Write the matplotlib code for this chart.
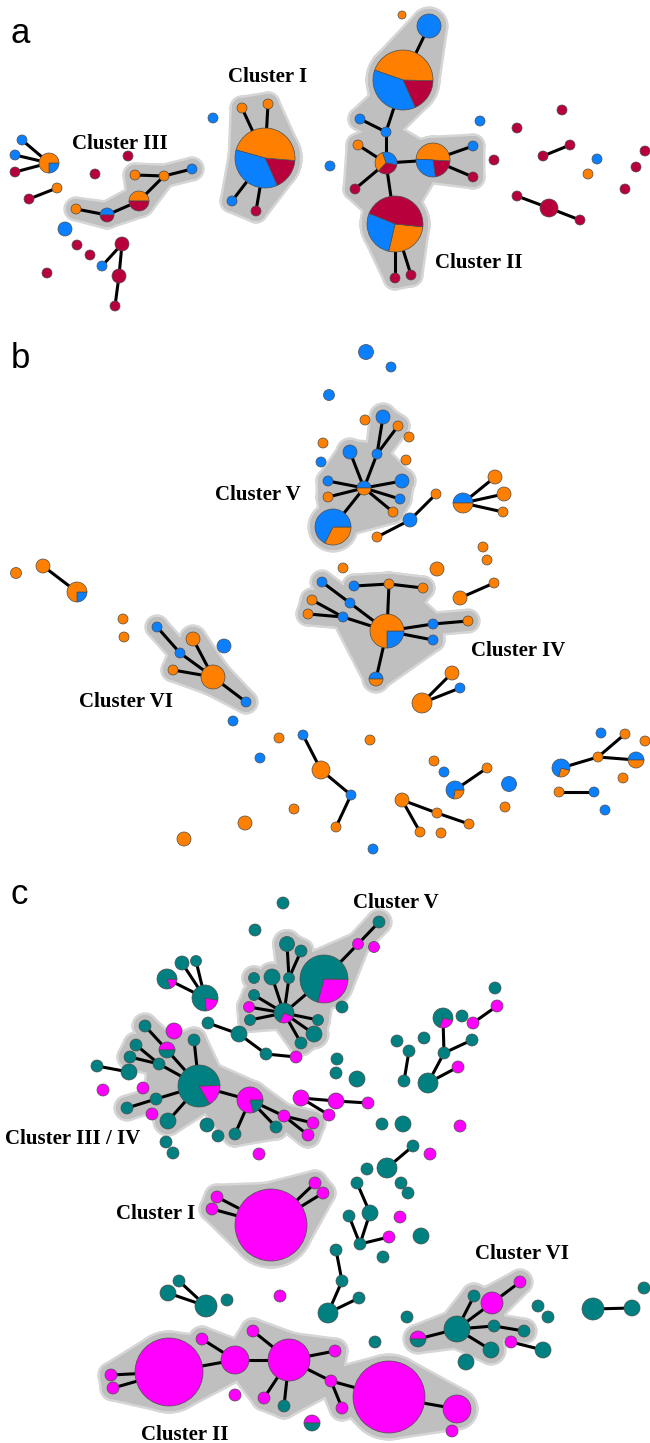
import matplotlib
matplotlib.use('Agg')
import numpy as np
import matplotlib.pyplot as plt
from matplotlib.patches import Circle, Wedge, Polygon

W, H = 650, 1443

# colour keys used in the node compositions
COLORS = {'b': '#0a80ff', 'o': '#ff8000', 'r': '#b8003c',
          't': '#008080', 'm': '#ff00ff'}
HULL_FILL = '#bfbfbf'
HULL_EDGE = '#d6d6d6'


def half(top, bottom):
    return (0, [(top, .5), (bottom, .5)])


# ---- panel a : node layout (x, y, size, composition) ----
nodes_a = [
    (22, 140, 5, 'b'), (15, 155, 5, 'b'), (15, 172, 5, 'r'),
    (49, 163, 10, (-90, [('b', .25), ('o', .75)])),
    (57, 188, 5, 'o'), (29, 199, 5, 'r'), (95, 174, 5, 'r'), (128, 156, 5, 'r'),
    (213, 118, 5, 'b'),
    # cluster III
    (76, 209, 5, 'o'), (107, 215, 7, half('b', 'r')), (139, 201, 10, half('o', 'r')),
    (135, 175, 5, 'o'), (164, 176, 5, 'o'), (192, 169, 5, 'b'),
    (65, 229, 7, 'b'), (77, 245, 5, 'r'), (90, 255, 5, 'r'), (122, 244, 7, 'r'),
    (102, 266, 5, 'b'), (119, 276, 7, 'r'), (115, 306, 5, 'r'), (47, 273, 5, 'r'),
    # cluster I
    (265, 158, 30, (-66, [('r', .17), ('o', .47), ('b', .36)])),
    (242, 108, 5, 'o'), (268, 104, 5, 'o'), (232, 201, 5, 'b'), (256, 211, 5, 'r'),
    # cluster II
    (402, 15, 4, 'o'), (429, 26, 12, 'b'),
    (403, 80, 30, (-66, [('r', .18), ('o', .45), ('b', .37)])),
    (360, 119, 5, 'b'), (386, 132, 5, 'b'), (358, 145, 5, 'o'),
    (386, 163, 11, (-10, [('b', .33), ('o', .33), ('r', .34)])),
    (355, 189, 5, 'r'),
    (433, 160, 17, (-82, [('r', .22), ('o', .5), ('b', .28)])),
    (473, 146, 5, 'b'), (473, 177, 5, 'r'),
    (395, 224, 28, (-103, [('o', .27), ('r', .455), ('b', .275)])),
    (395, 278, 5, 'r'), (411, 275, 5, 'r'),
    # singletons / small groups
    (330, 166, 5, 'b'), (480, 121, 5, 'b'), (517, 128, 5, 'r'), (562, 110, 5, 'r'),
    (494, 160, 5, 'r'), (543, 156, 5, 'r'), (570, 145, 5, 'r'), (597, 159, 5, 'b'),
    (588, 174, 5, 'o'), (645, 151, 5, 'r'), (636, 167, 5, 'r'), (625, 189, 5, 'r'),
    (517, 196, 5, 'r'), (549, 208, 9, 'r'), (580, 220, 5, 'r'),
]
edges_a = [(0, 3), (1, 3), (2, 3), (4, 5), (9, 10), (10, 11), (11, 13), (12, 13),
           (13, 14), (18, 19), (18, 20), (20, 21), (23, 24), (23, 25), (23, 26),
           (23, 27), (29, 30), (30, 32), (31, 32), (32, 34), (33, 34), (35, 34),
           (34, 36), (36, 37), (36, 38), (34, 39), (39, 40), (39, 41), (47, 48),
           (54, 55), (55, 56)]
hulls_a = [[9, 10, 11, 12, 13, 14], [23, 24, 25, 26, 27],
           [29, 30, 31, 32, 33, 34, 35, 36, 37, 38, 39, 40, 41]]
labels_a = [('Cluster I', 268, 75), ('Cluster III', 120, 142), ('Cluster II', 479, 261)]

# ---- panel b ----
nodes_b = [
    (366, 352, 7.5, 'b'), (391, 367, 5, 'b'), (329, 395, 5.5, 'b'), (365, 420, 5, 'o'),
    (383, 417, 7, 'b'), (398, 426, 5, 'o'), (409, 437, 5, 'o'), (323, 443, 5, 'o'),
    (350, 452, 7, 'b'), (377, 454, 5, 'b'), (406, 460, 5, 'o'), (321, 462, 5, 'b'),
    (364, 488, 7, half('b', 'o')), (328, 481, 5, 'b'), (402, 481, 7, 'b'),
    (328, 497, 5, 'o'), (400, 499, 5, 'b'), (393, 512, 5, 'o'),
    (333, 527, 18, (-117, [('o', .325), ('b', .675)])),
    (410, 520, 7, 'b'), (436, 494, 5, 'o'), (377, 537, 5, 'o'),
    (463, 503, 10, half('b', 'o')), (495, 477, 7, 'o'), (504, 494, 7, 'o'),
    (503, 512, 5, 'o'), (483, 547, 5, 'o'), (487, 560, 5, 'o'), (437, 569, 7, 'o'),
    (343, 568, 5, 'o'), (494, 583, 5, 'o'), (460, 598, 7, 'o'),
    (16, 573, 5.5, 'o'), (43, 566, 7, 'o'),
    (77, 592, 10, (-90, [('b', .25), ('o', .75)])),
    (123, 619, 5, 'o'), (124, 637, 5, 'o'),
    # cluster VI
    (157, 627, 5, 'b'), (193, 639, 7, 'o'), (180, 653, 5, 'b'), (173, 670, 5, 'o'),
    (213, 677, 12, 'o'), (246, 702, 5, 'b'), (224, 646, 7, 'b'), (233, 721, 5, 'b'),
    # cluster IV
    (322, 582, 5, 'b'), (354, 586, 5, 'b'), (389, 584, 5, 'o'), (423, 588, 5, 'o'),
    (312, 600, 5, 'o'), (350, 603, 5, 'b'), (308, 614, 5, 'o'), (343, 617, 5, 'b'),
    (387, 631, 17, (-90, [('b', .25), ('o', .75)])),
    (433, 624, 5, 'b'), (468, 621, 5, 'o'), (433, 640, 5, 'b'),
    (376, 679, 7, half('b', 'o')),
    (452, 673, 7, 'o'), (460, 688, 5, 'b'), (422, 703, 10, 'o'),
    # lower part
    (279, 738, 5, 'o'), (303, 735, 5, 'b'), (321, 770, 9, 'o'), (351, 795, 5, 'b'),
    (336, 827, 5, 'o'), (294, 809, 5, 'o'), (373, 849, 5, 'b'), (370, 740, 5, 'o'),
    (260, 758, 5, 'b'), (245, 823, 7, 'o'), (184, 839, 7, 'o'), (434, 761, 5, 'o'),
    (444, 772, 5, 'b'), (402, 800, 7, 'o'), (437, 813, 5, 'o'), (469, 824, 5, 'o'),
    (420, 832, 5, 'o'), (441, 833, 5, 'o'),
    (455, 790, 9, (-100, [('o', .28), ('b', .72)])),
    (487, 768, 5, 'o'), (509, 784, 7.5, 'b'), (505, 807, 5, 'o'),
    (601, 733, 5, 'b'), (625, 734, 5, 'o'), (645, 741, 5, 'o'), (598, 757, 5, 'o'),
    (561, 768, 9, (-105, [('o', .25), ('b', .75)])),
    (636, 760, 8, half('b', 'o')), (623, 778, 5, 'o'), (559, 792, 5, 'o'),
    (594, 792, 5, 'b'), (605, 810, 5, 'b'),
]
edges_b = [(12, 8), (12, 9), (9, 4), (9, 5), (12, 13), (12, 15), (12, 14), (12, 16),
           (12, 17), (12, 18), (19, 21), (19, 20), (22, 23), (22, 24), (22, 25),
           (31, 30), (33, 34), (37, 39), (39, 41), (38, 41), (40, 41), (41, 42),
           (53, 47), (47, 46), (47, 48), (53, 50), (50, 45), (53, 52), (52, 49),
           (52, 51), (53, 54), (54, 55), (53, 56), (53, 57), (60, 58), (60, 59),
           (62, 63), (63, 64), (64, 65), (74, 75), (75, 76), (74, 77), (79, 80),
           (87, 86), (86, 84), (86, 88), (90, 91)]
hulls_b = [[4, 5, 8, 9, 12, 13, 14, 15, 16, 17, 18], [37, 38, 39, 40, 41, 42],
           [45, 46, 47, 48, 49, 50, 51, 52, 53, 54, 55, 56, 57]]
labels_b = [('Cluster V', 258, 493), ('Cluster IV', 518, 649), ('Cluster VI', 126, 700)]

# ---- panel c ----
nodes_c = [
    (283, 903, 6, 't'), (255, 930, 6, 't'), (182, 963, 7, 't'), (196, 961, 5.5, 't'),
    (167, 979, 10, (-70, [('m', .19), ('t', .81)])),
    (205, 998, 13, (-85, [('m', .21), ('t', .79)])),
    # cluster V
    (379, 922, 6, 't'), (358, 944, 5.5, 'm'), (374, 947, 5.5, 'm'), (287, 944, 7.5, 't'),
    (301, 951, 6, 't'), (324, 979, 24, (-105, [('m', .29), ('t', .71)])),
    (272, 977, 8, 't'), (289, 978, 5.5, 't'), (254, 978, 5.5, 't'), (254, 995, 5.5, 't'),
    (249, 1007, 5.5, 'm'), (250, 1020, 5.5, 't'),
    (284, 1013, 10, (-115, [('m', .26), ('t', .74)])),
    (318, 1020, 5.5, 't'), (314, 1034, 8, 't'), (301, 1043, 6, 't'), (342, 1007, 6, 't'),
    (208, 1023, 6, 't'), (239, 1034, 8, 't'), (266, 1054, 6, 't'), (296, 1057, 6, 'm'),
    # cluster III / IV
    (174, 1031, 8, 'm'), (145, 1026, 6, 't'), (167, 1050, 8, half('m', 't')),
    (194, 1040, 6, 't'), (136, 1045, 6, 't'), (130, 1057, 6, 't'), (159, 1064, 6, 't'),
    (97, 1066, 6, 't'), (129, 1072, 8, 't'),
    (199, 1086, 21, (-60, [('m', .17), ('t', .83)])),
    (103, 1090, 6, 'm'), (143, 1088, 6, 'm'), (156, 1099, 6, 't'), (127, 1108, 6, 't'),
    (152, 1114, 6, 'm'), (168, 1121, 8, 't'), (207, 1125, 7, 't'), (218, 1136, 6, 't'),
    (250, 1100, 13, (-75, [('t', .21), ('m', .79)])),
    (235, 1134, 6, 't'), (284, 1116, 6, 'm'), (276, 1127, 6, 't'), (313, 1123, 6, 'm'),
    (308, 1135, 6, 'm'), (166, 1142, 6, 't'), (173, 1153, 6, 't'), (259, 1154, 6, 'm'),
    (301, 1098, 8, 'm'), (336, 1101, 8, 'm'), (368, 1103, 6, 'm'), (329, 1115, 6, 'm'),
    (337, 1059, 6, 't'), (336, 1073, 6, 't'), (357, 1079, 8, 't'), (382, 1124, 6, 't'),
    (403, 1124, 8, 't'), (460, 1126, 6, 'm'), (413, 1146, 6, 't'), (430, 1154, 6, 'm'),
    (387, 1168, 10, 't'), (367, 1169, 6, 't'),
    (495, 988, 6, 't'), (497, 1006, 6, 'm'),
    (443, 1018, 10, (-110, [('m', .27), ('t', .73)])),
    (462, 1016, 6, 't'), (473, 1023, 6, 'm'), (397, 1041, 6, 't'), (424, 1038, 6, 't'),
    (472, 1040, 6, 't'), (409, 1051, 6, 't'), (444, 1053, 6, 't'), (458, 1067, 6, 'm'),
    (404, 1081, 6, 't'), (428, 1083, 10, 't'),
    (401, 1183, 6, 't'), (408, 1193, 6, 't'), (357, 1183, 6, 't'), (370, 1213, 8, 't'),
    (349, 1216, 6, 't'), (360, 1244, 6, 't'), (389, 1237, 6, 'm'), (400, 1217, 6, 'm'),
    (383, 1257, 6, 't'), (421, 1236, 8, 't'),
    # cluster I
    (271, 1225, 36, 'm'), (217, 1197, 6, 'm'), (212, 1209, 6, 'm'), (315, 1183, 6, 'm'),
    (323, 1193, 6, 'm'),
    (336, 1250, 6, 't'), (342, 1281, 6, 't'), (359, 1298, 6, 't'), (328, 1313, 10, 't'),
    (179, 1281, 6, 't'), (168, 1293, 8, 't'), (206, 1306, 11, 't'), (227, 1300, 6, 't'),
    (280, 1296, 6, 'm'), (375, 1342, 6, 't'),
    # cluster II
    (169, 1372, 34, 'm'), (111, 1375, 6, 'm'), (113, 1388, 6, 'm'), (202, 1339, 6, 'm'),
    (235, 1360, 14, 'm'), (253, 1331, 6, 'm'), (289, 1360, 21, 'm'), (335, 1351, 6, 'm'),
    (331, 1381, 6, 'm'), (342, 1408, 6, 'm'), (264, 1398, 6, 'm'), (284, 1406, 6, 't'),
    (389, 1397, 36, 'm'), (457, 1409, 14, 'm'), (452, 1431, 6, 'm'), (235, 1395, 6, 'm'),
    (312, 1423, 8, half('m', 't')),
    # cluster VI
    (520, 1282, 6, 'm'), (492, 1303, 11, 'm'), (474, 1296, 6, 't'), (457, 1329, 13, 't'),
    (418, 1339, 8, half('m', 't')), (494, 1326, 6, 't'), (524, 1331, 6, 't'),
    (491, 1350, 8, 't'), (511, 1342, 6, 'm'), (543, 1350, 8, 't'), (466, 1362, 8, 't'),
    (407, 1317, 6, 't'), (538, 1306, 6, 't'), (548, 1317, 6, 't'), (593, 1309, 11, 't'),
    (632, 1308, 8, 't'), (644, 1288, 6, 't'),
]
edges_c = [(5, 2), (5, 3), (5, 4), (11, 7), (7, 6), (18, 11), (18, 13), (13, 9),
           (13, 10), (18, 12), (18, 15), (18, 16), (18, 17), (18, 19), (18, 20),
           (18, 21), (23, 24), (24, 25), (25, 26), (28, 29), (29, 36), (31, 33),
           (32, 33), (33, 36), (30, 36), (34, 35), (36, 39), (39, 40), (36, 42),
           (36, 45), (45, 46), (45, 48), (45, 47), (47, 49), (47, 50), (54, 55),
           (55, 56), (54, 57), (66, 64), (70, 77), (77, 75), (77, 80), (80, 78),
           (76, 79), (72, 69), (83, 84), (84, 86), (85, 86), (86, 87), (91, 92),
           (91, 93), (91, 94), (91, 95), (96, 97), (97, 99), (99, 98), (100, 102),
           (101, 102), (106, 107), (106, 108), (106, 110), (110, 112), (109, 110),
           (111, 112), (112, 113), (112, 116), (112, 117), (112, 114), (114, 118),
           (114, 115), (118, 119), (126, 127), (126, 125), (126, 124), (126, 128),
           (126, 130), (124, 123), (128, 129), (131, 132), (137, 138)]
hulls_c = [[6, 7, 9, 10, 11, 12, 13, 14, 15, 16, 17, 18, 19, 20, 21],
           [28, 29, 30, 31, 32, 33, 36, 39, 40, 42, 45, 46, 47, 48, 49, 50],
           [91, 92, 93, 94, 95],
           list(range(106, 120)),
           [123, 124, 125, 126, 127, 128, 129, 130]]
labels_c = [('Cluster V', 396, 901), ('Cluster III / IV', 73, 1137),
            ('Cluster I', 156, 1212), ('Cluster VI', 522, 1252), ('Cluster II', 185, 1433)]

panel_letters = [('a', 11, 43), ('b', 11, 368), ('c', 11, 904)]

PT = 72 / 100  # points per pixel


def convex_hull(pts):
    pts = sorted(set(pts))
    if len(pts) < 3:
        return pts

    def cross(o, a, b):
        return (a[0] - o[0]) * (b[1] - o[1]) - (a[1] - o[1]) * (b[0] - o[0])
    lower, upper = [], []
    for p in pts:
        while len(lower) >= 2 and cross(lower[-2], lower[-1], p) <= 0:
            lower.pop()
        lower.append(p)
    for p in reversed(pts):
        while len(upper) >= 2 and cross(upper[-2], upper[-1], p) <= 0:
            upper.pop()
        upper.append(p)
    return lower[:-1] + upper[:-1]


def blob(circles):
    # convex outline around a few circles
    t = np.linspace(0, 2 * np.pi, 48, endpoint=False)
    pts = []
    for x, y, r in circles:
        pts += [(round(x + r * np.cos(a), 3), round(y + r * np.sin(a), 3)) for a in t]
    return convex_hull(pts)


def hull_triangles(nodes, edges, members, max_gap=100):
    mset = set(members)
    nbrs = {i: [] for i in members}
    for i, j in edges:
        if i in mset and j in mset:
            nbrs[i].append(j)
            nbrs[j].append(i)
    tris = []
    for hub, nb in nbrs.items():
        if len(nb) < 2:
            continue
        hx, hy = nodes[hub][0], nodes[hub][1]
        ang = sorted(nb, key=lambda k: np.degrees(np.arctan2(hy - nodes[k][1], nodes[k][0] - hx)))
        degs = [np.degrees(np.arctan2(hy - nodes[k][1], nodes[k][0] - hx)) for k in ang]
        for n in range(len(ang)):
            k1, k2 = ang[n], ang[(n + 1) % len(ang)]
            gap = (degs[(n + 1) % len(ang)] - degs[n]) % 360
            if 0 < gap < max_gap:
                tris.append((hub, k1, k2))
    return tris


def draw_hull(ax, nodes, edges, members, pad=5, border=2.5):
    mset = set(members)
    hedges = [(i, j) for i, j in edges if i in mset and j in mset]
    tris = hull_triangles(nodes, edges, members)
    for extra, col, z in [(border, HULL_EDGE, 1), (0, HULL_FILL, 2)]:
        for i in members:
            x, y, r = nodes[i][:3]
            ax.add_patch(Circle((x, y), r + pad + extra, fc=col, ec='none', zorder=z))
        for i, j in hedges:
            circ = [(nodes[k][0], nodes[k][1], nodes[k][2] + pad + extra) for k in (i, j)]
            ax.add_patch(Polygon(blob(circ), closed=True, fc=col, ec='none', zorder=z))
        for tri in tris:
            circ = [(nodes[k][0], nodes[k][1], min(nodes[k][2], 6) + pad + extra) for k in tri]
            ax.add_patch(Polygon(blob(circ), closed=True, fc=col, ec='none', zorder=z))


def draw_node(ax, x, y, r, mix):
    if isinstance(mix, str):
        ax.add_patch(Circle((x, y), r, fc=COLORS[mix], ec='#4d4d4d', lw=0.5, zorder=4))
        return
    start, parts = mix
    a = start
    for key, frac in parts:
        b = a + frac * 360
        # y axis is inverted, so visual angles are mirrored
        ax.add_patch(Wedge((x, y), r, -b, -a, fc=COLORS[key], ec='#4d4d4d', lw=0.5, zorder=4))
        a = b


fig = plt.figure(figsize=(W / 100, H / 100), dpi=100)
ax = fig.add_axes([0, 0, 1, 1])
ax.set_xlim(0, W)
ax.set_ylim(H, 0)
ax.axis('off')

for nodes, edges, hulls, labels in [(nodes_a, edges_a, hulls_a, labels_a),
                                    (nodes_b, edges_b, hulls_b, labels_b),
                                    (nodes_c, edges_c, hulls_c, labels_c)]:
    for members in hulls:
        draw_hull(ax, nodes, edges, members)
    for i, j in edges:
        ax.plot([nodes[i][0], nodes[j][0]], [nodes[i][1], nodes[j][1]],
                color='black', lw=2.2, solid_capstyle='butt', zorder=3)
    for x, y, r, mix in nodes:
        draw_node(ax, x, y, r, mix)
    for txt, x, y in labels:
        ax.text(x, y + 7, txt, ha='center', va='baseline', fontsize=15,
                fontweight='bold', family='Liberation Serif', zorder=5)

for letter, x, y in panel_letters:
    ax.text(x, y, letter, ha='left', va='baseline', fontsize=25,
            family='Liberation Sans', zorder=5)

fig.savefig('out.png', dpi=100)
